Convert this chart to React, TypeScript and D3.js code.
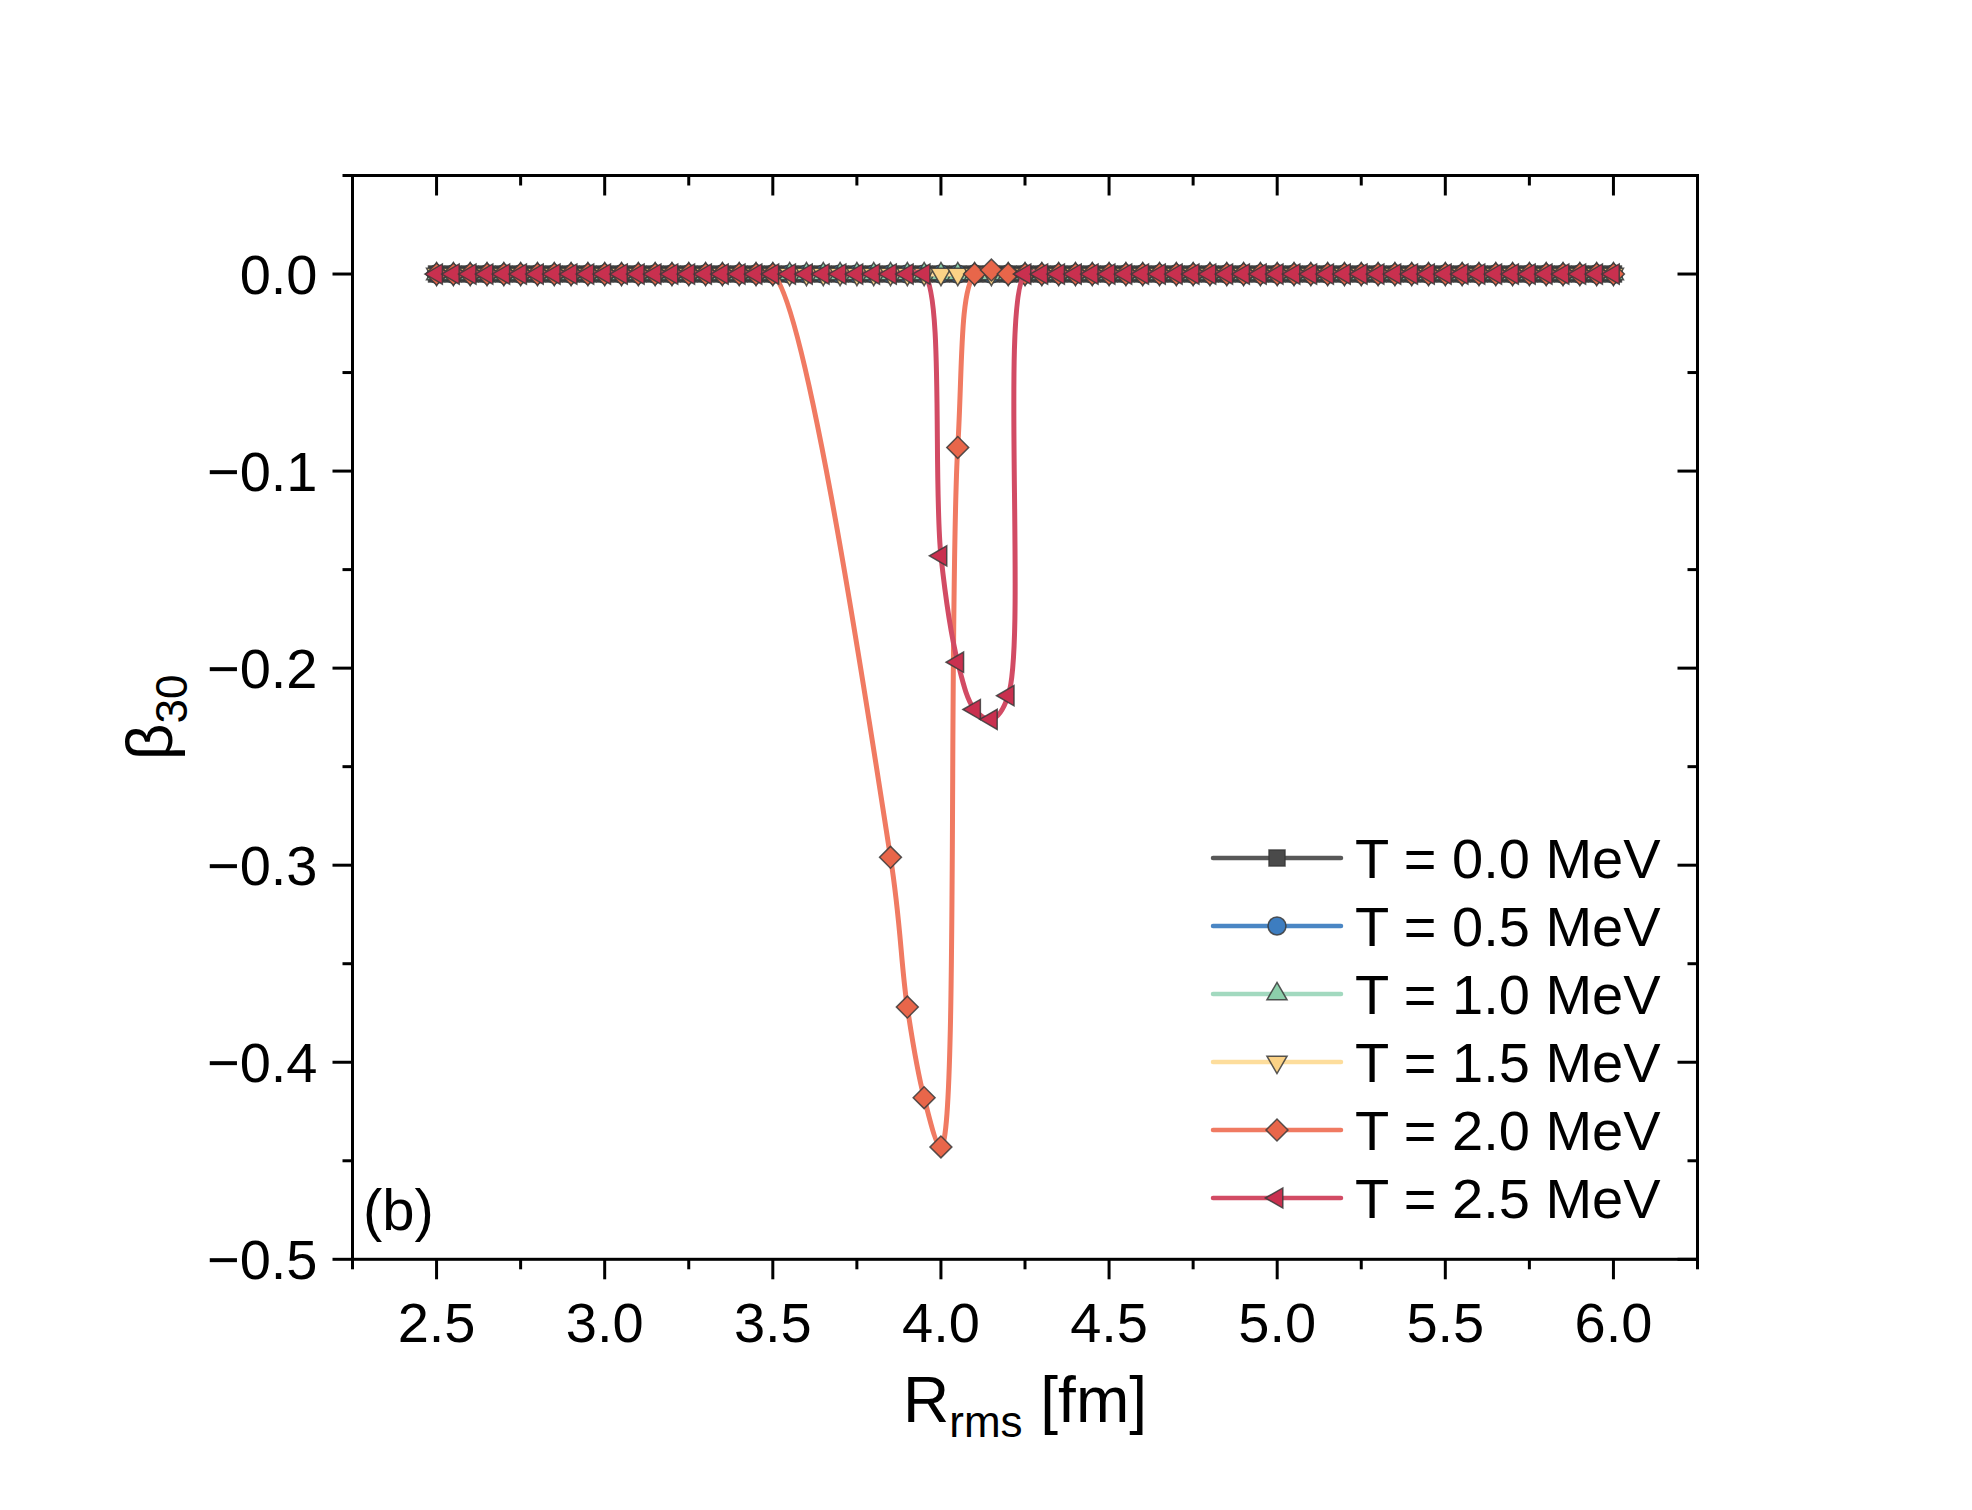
import React, { useRef, useEffect } from "react";
import {
  select,
  scaleLinear,
  line,
  curveCatmullRom,
  symbol,
  symbolSquare,
  symbolCircle,
  symbolTriangle,
} from "d3";

const W = 1972;
const H = 1510;
const FONT = "'Liberation Sans', Arial, sans-serif";

// R_rms grid [fm]
const rValues = [
  2.5, 2.55, 2.6, 2.65, 2.7, 2.75, 2.8, 2.85, 2.9, 2.95,
  3.0, 3.05, 3.1, 3.15, 3.2, 3.25, 3.3, 3.35, 3.4, 3.45,
  3.5, 3.55, 3.6, 3.65, 3.7, 3.75, 3.8, 3.85, 3.9, 3.95,
  4.0, 4.05, 4.1, 4.15, 4.2, 4.25, 4.3, 4.35, 4.4, 4.45,
  4.5, 4.55, 4.6, 4.65, 4.7, 4.75, 4.8, 4.85, 4.9, 4.95,
  5.0, 5.05, 5.1, 5.15, 5.2, 5.25, 5.3, 5.35, 5.4, 5.45,
  5.5, 5.55, 5.6, 5.65, 5.7, 5.75, 5.8, 5.85, 5.9, 5.95,
  6.0,
];

// beta_30 for each temperature (null = no point)
const betaT00 = [
  0, 0, 0, 0, 0, 0, 0, 0, 0, 0,
  0, 0, 0, 0, 0, 0, 0, 0, 0, 0,
  0, 0, 0, 0, 0, 0, 0, 0, 0, 0,
  0, 0, 0, 0, 0, 0, 0, 0, 0, 0,
  0, 0, 0, 0, 0, 0, 0, 0, 0, 0,
  0, 0, 0, 0, 0, 0, 0, 0, 0, 0,
  0, 0, 0, 0, 0, 0, 0, 0, 0, 0,
  0,
];
const betaT05 = [
  0, 0, 0, 0, 0, 0, 0, 0, 0, 0,
  0, 0, 0, 0, 0, 0, 0, 0, 0, 0,
  0, 0, 0, 0, 0, 0, 0, 0, 0, 0,
  0, 0, 0, 0, 0, 0, 0, 0, 0, 0,
  0, 0, 0, 0, 0, 0, 0, 0, 0, 0,
  0, 0, 0, 0, 0, 0, 0, 0, 0, 0,
  0, 0, 0, 0, 0, 0, 0, 0, 0, 0,
  0,
];
const betaT10 = [
  0, 0, 0, 0, 0, 0, 0, 0, 0, 0,
  0, 0, 0, 0, 0, 0, 0, 0, 0, 0,
  0, 0, 0, 0, 0, 0, 0, 0, 0, 0,
  0, 0, 0, 0, 0, 0, 0, 0, 0, 0,
  0, 0, 0, 0, 0, 0, 0, 0, 0, 0,
  0, 0, 0, 0, 0, 0, 0, 0, 0, 0,
  0, 0, 0, 0, 0, 0, 0, 0, 0, 0,
  0,
];
const betaT15 = [
  0, 0, 0, 0, 0, 0, 0, 0, 0, 0,
  0, 0, 0, 0, 0, 0, 0, 0, 0, 0,
  0, 0, 0, 0, 0, 0, 0, 0, 0, 0,
  0, 0, 0, 0, 0, 0, 0, 0, 0, 0,
  0, 0, 0, 0, 0, 0, 0, 0, 0, 0,
  0, 0, 0, 0, 0, 0, 0, 0, 0, 0,
  0, 0, 0, 0, 0, 0, 0, 0, 0, 0,
  0,
];
const betaT20 = [
  0, 0, 0, 0, 0, 0, 0, 0, 0, 0,
  0, 0, 0, 0, 0, 0, 0, 0, 0, 0,
  0, null, null, null, null, null, null, -0.296, -0.372, -0.418,
  -0.443, -0.088, 0, 0.002, 0, 0, 0, 0, 0, 0,
  0, 0, 0, 0, 0, 0, 0, 0, 0, 0,
  0, 0, 0, 0, 0, 0, 0, 0, 0, 0,
  0, 0, 0, 0, 0, 0, 0, 0, 0, 0,
  0,
];
const betaT25 = [
  0, 0, 0, 0, 0, 0, 0, 0, 0, 0,
  0, 0, 0, 0, 0, 0, 0, 0, 0, 0,
  0, 0, 0, 0, 0, 0, 0, 0, 0, 0,
  -0.143, -0.197, -0.221, -0.226, -0.214, 0, 0, 0, 0, 0,
  0, 0, 0, 0, 0, 0, 0, 0, 0, 0,
  0, 0, 0, 0, 0, 0, 0, 0, 0, 0,
  0, 0, 0, 0, 0, 0, 0, 0, 0, 0,
  0,
];

const seriesLabels = ["T = 0.0 MeV", "T = 0.5 MeV", "T = 1.0 MeV", "T = 1.5 MeV", "T = 2.0 MeV", "T = 2.5 MeV"];

const xMajor = [2.5, 3.0, 3.5, 4.0, 4.5, 5.0, 5.5, 6.0];
const xMajorLabels = ["2.5", "3.0", "3.5", "4.0", "4.5", "5.0", "5.5", "6.0"];
const xMinor = [2.25, 2.75, 3.25, 3.75, 4.25, 4.75, 5.25, 5.75, 6.25];
const yMajor = [0, -0.1, -0.2, -0.3, -0.4, -0.5];
const yMajorLabels = ["0.0", "\u22120.1", "\u22120.2", "\u22120.3", "\u22120.4", "\u22120.5"];
const yMinor = [0.05, -0.05, -0.15, -0.25, -0.35, -0.45];

// style per series
const styles = [
  { line: "#585858", fill: "#4a4a4a", shape: "square" },
  { line: "#4a86c4", fill: "#3d7dc0", shape: "circle" },
  { line: "#a2d9bf", fill: "#8ccfab", shape: "up" },
  { line: "#fddd9c", fill: "#fbd286", shape: "down" },
  { line: "#f07a62", fill: "#e8664a", shape: "diamond" },
  { line: "#d24b64", fill: "#c9304f", shape: "left" },
];

function markerPath(shape) {
  if (shape === "square") return symbol(symbolSquare, 256)();
  if (shape === "circle") return symbol(symbolCircle, 254)();
  if (shape === "diamond") return symbol(symbolSquare, 240)();
  return symbol(symbolTriangle, 175)();
}
function markerRot(shape) {
  if (shape === "down") return 180;
  if (shape === "left") return -90;
  if (shape === "diamond") return 45;
  return 0;
}

function App() {
  const svgRef = useRef(null);

  useEffect(() => {
    const svg = select(svgRef.current);
    svg.selectAll("*").remove();

    const left = 352.5, right = 1697.5, top = 175.5, bottom = 1259.3;
    const xScale = scaleLinear().domain([2.25, 6.25]).range([left, right]);
    const yScale = scaleLinear().domain([-0.5, 0.05]).range([bottom, top]);

    const allSeries = [betaT00, betaT05, betaT10, betaT15, betaT20, betaT25];

    // curves + symbols
    const gData = svg.append("g");
    allSeries.forEach((vals, si) => {
      const st = styles[si];
      const pts = rValues
        .map((r, i) => ({ r, b: vals[i] }))
        .filter((d) => d.b !== null);
      const lineGen = line()
        .x((d) => xScale(d.r))
        .y((d) => yScale(d.b))
        .curve(curveCatmullRom.alpha(0.5));
      gData
        .append("path")
        .attr("d", lineGen(pts))
        .attr("fill", "none")
        .attr("stroke", st.line)
        .attr("stroke-width", 5)
        .attr("stroke-linejoin", "round");
      const path = markerPath(st.shape);
      const rot = markerRot(st.shape);
      gData
        .append("g")
        .selectAll("path")
        .data(pts)
        .join("path")
        .attr("d", path)
        .attr("transform", (d) => `translate(${xScale(d.r)},${yScale(d.b)}) rotate(${rot})`)
        .attr("fill", st.fill)
        .attr("stroke", "#3a3a3a")
        .attr("stroke-opacity", 0.85)
        .attr("stroke-width", 1.5);
    });

    // frame
    const gAxis = svg.append("g").attr("stroke", "#000").attr("stroke-width", 3);
    gAxis
      .append("rect")
      .attr("x", left)
      .attr("y", top)
      .attr("width", right - left)
      .attr("height", bottom - top)
      .attr("fill", "none");

    const addXTicks = (vals, len) => {
      vals.forEach((v) => {
        const x = xScale(v);
        gAxis.append("line").attr("x1", x).attr("x2", x).attr("y1", bottom).attr("y2", bottom + len);
        gAxis.append("line").attr("x1", x).attr("x2", x).attr("y1", top).attr("y2", top + len);
      });
    };
    const addYTicks = (vals, len) => {
      vals.forEach((v) => {
        const y = yScale(v);
        gAxis.append("line").attr("x1", left - len).attr("x2", left).attr("y1", y).attr("y2", y);
        gAxis.append("line").attr("x1", right - len).attr("x2", right).attr("y1", y).attr("y2", y);
      });
    };
    addXTicks(xMajor, 20);
    addXTicks(xMinor, 10);
    addYTicks(yMajor, 20);
    addYTicks(yMinor, 10);

    // tick labels
    const gText = svg.append("g").attr("font-family", FONT).attr("fill", "#000");
    xMajor.forEach((v, i) => {
      gText
        .append("text")
        .attr("x", xScale(v))
        .attr("y", bottom + 83)
        .attr("text-anchor", "middle")
        .attr("font-size", 56)
        .text(xMajorLabels[i]);
    });
    yMajor.forEach((v, i) => {
      gText
        .append("text")
        .attr("x", left - 35)
        .attr("y", yScale(v) + 20)
        .attr("text-anchor", "end")
        .attr("font-size", 56)
        .text(yMajorLabels[i]);
    });

    // axis titles
    const xt = gText
      .append("text")
      .attr("x", (left + right) / 2)
      .attr("y", 1422)
      .attr("text-anchor", "middle")
      .attr("font-size", 64);
    xt.append("tspan").text("R");
    xt.append("tspan").attr("font-size", 44).attr("dy", 15).text("rms");
    xt.append("tspan").attr("dy", -15).text(" [fm]");

    const yt = gText
      .append("text")
      .attr("transform", `translate(172,${(top + bottom) / 2}) rotate(-90)`)
      .attr("text-anchor", "middle")
      .attr("font-size", 64);
    yt.append("tspan").text("\u03b2");
    yt.append("tspan").attr("font-size", 44).attr("dy", 15).text("30");

    gText.append("text").attr("x", 363).attr("y", 1230).attr("font-size", 58).text("(b)");

    // legend
    const gLeg = svg.append("g");
    seriesLabels.forEach((lab, i) => {
      const st = styles[i];
      const cy = 858 + i * 68;
      gLeg
        .append("line")
        .attr("x1", 1213)
        .attr("x2", 1341)
        .attr("y1", cy)
        .attr("y2", cy)
        .attr("stroke", st.line)
        .attr("stroke-width", 4.5)
        .attr("stroke-linecap", "round");
      gLeg
        .append("path")
        .attr("d", markerPath(st.shape))
        .attr("transform", `translate(1277,${cy}) rotate(${markerRot(st.shape)})`)
        .attr("fill", st.fill)
        .attr("stroke", "#3a3a3a")
        .attr("stroke-opacity", 0.85)
        .attr("stroke-width", 1.5);
      gLeg
        .append("text")
        .attr("x", 1355)
        .attr("y", cy + 20)
        .attr("font-family", FONT)
        .attr("font-size", 56)
        .text(lab);
    });
  }, []);

  return (
    <svg
      ref={svgRef}
      width={W}
      height={H}
      style={{ position: "absolute", left: 0, top: 0, background: "#fff" }}
    />
  );
}

export default App;
